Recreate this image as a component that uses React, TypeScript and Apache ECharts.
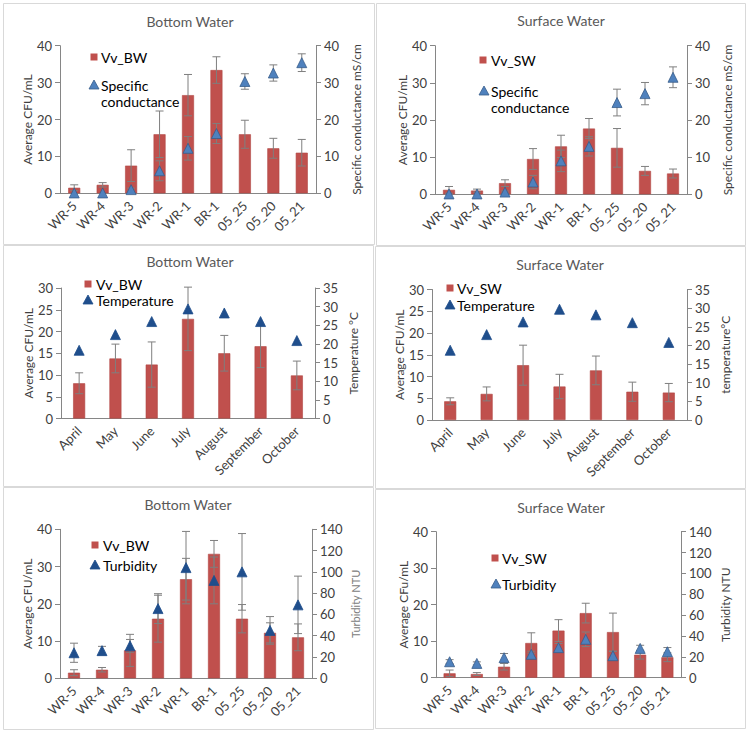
import React, { useEffect, useRef } from 'react';
import * as echarts from 'echarts';

const sites = ['WR-5', 'WR-4', 'WR-3', 'WR-2', 'WR-1', 'BR-1', '05_25', '05_20', '05_21'];
const months = ['April', 'May', 'June', 'July', 'August', 'September', 'October'];

// Panel 1 / 5: bottom water CFU by site
const bwCfu = [1.5, 2.3, 7.5, 16.0, 26.6, 33.4, 16.0, 12.2, 11.0];
const bwCfuErr = [0.8, 0.6, 4.3, 6.3, 5.6, 3.6, 3.8, 2.7, 3.6];
const bwCond = [0.1, 0.1, 1.0, 6.1, 12.2, 16.2, 30.3, 32.6, 35.4];
const bwCondErr = [0, 0, 0.4, 2.7, 3.2, 2.7, 2.1, 2.2, 2.4];
// Panel 2 / 6: surface water CFU by site
const swCfu = [1.2, 1.0, 3.0, 9.5, 12.9, 17.7, 12.5, 6.3, 5.6];
const swCfuErr = [0.9, 0.4, 0.9, 2.8, 3.0, 2.7, 5.2, 1.2, 1.2];
const swCond = [0.1, 0.1, 0.6, 3.3, 9.0, 12.9, 24.7, 27.1, 31.5];
const swCondErr = [0, 0, 0.3, 1.8, 2.9, 2.6, 3.6, 3.0, 2.8];
// Panel 3 / 4: monthly
const bwMonthCfu = [8.1, 13.8, 12.4, 22.9, 15.0, 16.6, 9.9];
const bwMonthErr = [2.4, 3.3, 5.2, 7.3, 4.1, 4.9, 3.3];
const bwTemp = [18.3, 22.5, 26.0, 29.4, 28.3, 26.0, 20.9];
const swMonthCfu = [4.3, 6.0, 12.6, 7.7, 11.4, 6.5, 6.3];
const swMonthErr = [0.8, 1.6, 4.6, 2.8, 3.3, 2.2, 2.1];
const swTemp = [18.7, 22.9, 26.3, 29.7, 28.2, 26.1, 20.8];
// Panel 5 / 6: turbidity
const bwTurb = [24, 26, 30.5, 65.5, 104, 92, 100, 45, 69];
const bwTurbErr = [9, 4, 6, 14, 34, 22, 36, 13, 27];
const swTurb = [15.3, 13.7, 19.2, 22.4, 28.8, 36.8, 21.1, 28.1, 24.9];
const swTurbErr = [2, 1.5, 4, 3, 4, 7, 4, 3, 4];

const FONT = 'Lato';
const AXIS = '#868686';
const TXT = '#404040';
const BAR = '#C0504D';
const LIGHTBLUE = '#4F81BD';
const DARKBLUE = '#1F4E8C';

type Panel = {
  title: string; titleX: number; titleY: number;
  grid: { left: number; top: number; width: number; height: number };
  box: [number, number, number, number];
  cats: string[];
  bars: number[]; barErr: number[];
  tri: number[]; triErr: number[] | null;
  triColor: string; triBorder: string;
  lmax: number; lint: number; rmax: number; rint: number;
  lname: string; rname: string; rnameColor: string; rnameSize: number;
  barName: string; triLines: string[];
  leg: { sq: [number, number]; tri: [number, number]; tx: number; lh: number };
  lgap: number; rgap: number;
};

const panels: Panel[] = [
  {
    title: 'Bottom Water', titleX: 190, titleY: 22,
    grid: { left: 60, top: 45.7, width: 256, height: 147.6 }, box: [3, 3, 371, 241],
    cats: sites, bars: bwCfu, barErr: bwCfuErr, tri: bwCond, triErr: bwCondErr,
    triColor: LIGHTBLUE, triBorder: '#385D8A', lmax: 40, lint: 10, rmax: 40, rint: 10,
    lname: 'Average CFU/mL', rname: 'Specific conductance mS/cm', rnameColor: TXT, rnameSize: 12,
    barName: 'Vv_BW', triLines: ['Specific', 'conductance'],
    leg: { sq: [94, 57], tri: [94, 85], tx: 101, lh: 16 }, lgap: 26, rgap: 34,
  },
  {
    title: 'Surface Water', titleX: 561, titleY: 21,
    grid: { left: 435, top: 45.7, width: 252, height: 148.6 }, box: [376, 3, 369, 242],
    cats: sites, bars: swCfu, barErr: swCfuErr, tri: swCond, triErr: swCondErr,
    triColor: LIGHTBLUE, triBorder: '#385D8A', lmax: 40, lint: 10, rmax: 40, rint: 10,
    lname: 'Average CFU/mL', rname: 'Specific conductance mS/cm', rnameColor: TXT, rnameSize: 12,
    barName: 'Vv_SW', triLines: ['Specific', 'conductance'],
    leg: { sq: [483, 60], tri: [484, 91], tx: 491, lh: 16 }, lgap: 26, rgap: 34,
  },
  {
    title: 'Bottom Water', titleX: 190, titleY: 262,
    grid: { left: 61, top: 288, width: 254, height: 130.5 }, box: [3, 245, 370, 241],
    cats: months, bars: bwMonthCfu, barErr: bwMonthErr, tri: bwTemp, triErr: null,
    triColor: DARKBLUE, triBorder: DARKBLUE, lmax: 30, lint: 5, rmax: 35, rint: 5,
    lname: 'Average CFU/mL', rname: 'Temperature °C', rnameColor: TXT, rnameSize: 12,
    barName: 'Vv_BW', triLines: ['Temperature'],
    leg: { sq: [88, 284], tri: [88, 300], tx: 96, lh: 16 }, lgap: 26, rgap: 32,
  },
  {
    title: 'Surface Water', titleX: 560, titleY: 265,
    grid: { left: 432, top: 289.5, width: 255, height: 130.5 }, box: [375, 246, 370, 242],
    cats: months, bars: swMonthCfu, barErr: swMonthErr, tri: swTemp, triErr: null,
    triColor: DARKBLUE, triBorder: DARKBLUE, lmax: 30, lint: 5, rmax: 35, rint: 5,
    lname: 'Average CFU/mL', rname: 'temperature°C', rnameColor: TXT, rnameSize: 12,
    barName: 'Vv_SW', triLines: ['Temperature'],
    leg: { sq: [450, 288], tri: [450, 305], tx: 457, lh: 16 }, lgap: 26, rgap: 32,
  },
  {
    title: 'Bottom Water', titleX: 188, titleY: 505,
    grid: { left: 60, top: 529.3, width: 252, height: 149 }, box: [3, 487, 370, 242],
    cats: sites, bars: bwCfu, barErr: bwCfuErr, tri: bwTurb, triErr: bwTurbErr,
    triColor: DARKBLUE, triBorder: DARKBLUE, lmax: 40, lint: 10, rmax: 140, rint: 20,
    lname: 'Average CFU/mL', rname: 'Turbidity NTU', rnameColor: '#808080', rnameSize: 11,
    barName: 'Vv_BW', triLines: ['Turbidity'],
    leg: { sq: [95, 545], tri: [95, 565], tx: 103, lh: 16 }, lgap: 26, rgap: 38,
  },
  {
    title: 'Surface Water', titleX: 561, titleY: 508,
    grid: { left: 436, top: 531.7, width: 245, height: 146 }, box: [375, 489, 370, 239],
    cats: sites, bars: swCfu, barErr: swCfuErr, tri: swTurb, triErr: swTurbErr,
    triColor: LIGHTBLUE, triBorder: '#385D8A', lmax: 40, lint: 10, rmax: 140, rint: 20,
    lname: 'Average CFu/mL', rname: 'Turbidity NTU', rnameColor: TXT, rnameSize: 12,
    barName: 'Vv_SW', triLines: ['Turbidity'],
    leg: { sq: [495, 558], tri: [496, 584], tx: 502, lh: 16 }, lgap: 26, rgap: 38,
  },
];

function errSeries(xi: number, yi: number, vals: number[], errs: number[], z: number) {
  return {
    type: 'custom', xAxisIndex: xi, yAxisIndex: yi, z, silent: true,
    data: vals.map((v, i) => [i, v, errs[i]]),
    encode: { x: 0, y: 1 },
    renderItem: (_p: any, api: any) => {
      const i = api.value(0), v = api.value(1), e = api.value(2);
      if (!e) return null;
      const t = api.coord([i, v + e]);
      const b = api.coord([i, Math.max(0, v - e)]);
      const hw = 4;
      const style = { stroke: '#7F7F7F', lineWidth: 1 };
      return {
        type: 'group', children: [
          { type: 'line', shape: { x1: t[0], y1: t[1], x2: b[0], y2: b[1] }, style },
          { type: 'line', shape: { x1: t[0] - hw, y1: t[1], x2: t[0] + hw, y2: t[1] }, style },
          { type: 'line', shape: { x1: b[0] - hw, y1: b[1], x2: b[0] + hw, y2: b[1] }, style },
        ],
      };
    },
  };
}

function buildOption() {
  const grid: any[] = [], xAxis: any[] = [], yAxis: any[] = [], series: any[] = [], title: any[] = [], graphic: any[] = [];
  panels.forEach((p, i) => {
    graphic.push({ type: 'rect', shape: { x: p.box[0] + 0.5, y: p.box[1] + 0.5, width: p.box[2], height: p.box[3] }, style: { fill: 'none', stroke: '#D9D9D9', lineWidth: 1 }, z: 0 });
    title.push({ text: p.title, left: p.titleX, top: p.titleY - 8, textAlign: 'center', padding: 0, textStyle: { fontFamily: FONT, fontSize: 14, fontWeight: 'normal', color: '#595959' } });
    grid.push({ ...p.grid });
    xAxis.push({
      type: 'category', gridIndex: i, data: p.cats,
      axisLine: { lineStyle: { color: AXIS } }, axisTick: { show: false },
      axisLabel: { rotate: 45, interval: 0, fontSize: 13, color: TXT, fontFamily: FONT, margin: 10 },
    });
    const common = {
      type: 'value', gridIndex: i, min: 0, splitLine: { show: false },
      axisLine: { show: true, lineStyle: { color: AXIS } },
      axisTick: { show: true, inside: false, length: 5, lineStyle: { color: AXIS } },
      nameLocation: 'middle',
    };
    yAxis.push({
      ...common, position: 'left', max: p.lmax, interval: p.lint,
      axisLabel: { fontSize: 13, color: TXT, fontFamily: FONT, margin: 8 },
      name: p.lname, nameRotate: 90, nameGap: p.lgap,
      nameTextStyle: { fontSize: 12, color: TXT, fontFamily: FONT },
    });
    yAxis.push({
      ...common, position: 'right', max: p.rmax, interval: p.rint,
      axisLabel: { fontSize: 13, color: TXT, fontFamily: FONT, margin: 8 },
      name: p.rname, nameRotate: 90, nameGap: p.rgap,
      nameTextStyle: { fontSize: p.rnameSize, color: p.rnameColor, fontFamily: FONT },
    });
    series.push({
      type: 'bar', xAxisIndex: i, yAxisIndex: 2 * i, data: p.bars, barWidth: 12, z: 2,
      itemStyle: { color: BAR, borderColor: '#B04643', borderWidth: 0.6 },
    });
    series.push(errSeries(i, 2 * i, p.bars, p.barErr, 3));
    if (p.triErr) series.push(errSeries(i, 2 * i + 1, p.tri, p.triErr, 4));
    series.push({
      type: 'scatter', xAxisIndex: i, yAxisIndex: 2 * i + 1, data: p.tri, z: 5,
      symbol: 'triangle', symbolSize: 10,
      itemStyle: { color: p.triColor, borderColor: p.triBorder, borderWidth: 0.8, opacity: 1 },
    });
    // legend
    const [sx, sy] = p.leg.sq;
    graphic.push({ type: 'rect', shape: { x: sx - 3.5, y: sy - 3.5, width: 7, height: 7 }, style: { fill: BAR }, z: 10 });
    graphic.push({ type: 'text', x: p.leg.tx, y: sy, style: { text: p.barName, fontSize: 14, fontFamily: FONT, fill: '#000', verticalAlign: 'middle' }, z: 10 });
    const [tx, ty] = p.leg.tri;
    graphic.push({ type: 'polygon', shape: { points: [[tx, ty - 5], [tx + 5, ty + 4], [tx - 5, ty + 4]] }, style: { fill: p.triColor, stroke: p.triBorder, lineWidth: 0.8 }, z: 10 });
    p.triLines.forEach((ln, k) => {
      graphic.push({ type: 'text', x: p.leg.tx, y: ty + k * p.leg.lh, style: { text: ln, fontSize: 14, fontFamily: FONT, fill: '#000', verticalAlign: 'middle' }, z: 10 });
    });
  });
  return { animation: false, backgroundColor: '#fff', title, grid, xAxis, yAxis, series, graphic };
}

export default function App() {
  const ref = useRef<HTMLDivElement>(null);
  useEffect(() => {
    if (!ref.current) return;
    const chart = echarts.init(ref.current, undefined, { renderer: 'svg' });
    chart.setOption(buildOption() as any);
    return () => chart.dispose();
  }, []);
  return <div ref={ref} style={{ position: 'fixed', left: 0, top: 0, width: 750, height: 733, background: '#fff' }} />;
}
